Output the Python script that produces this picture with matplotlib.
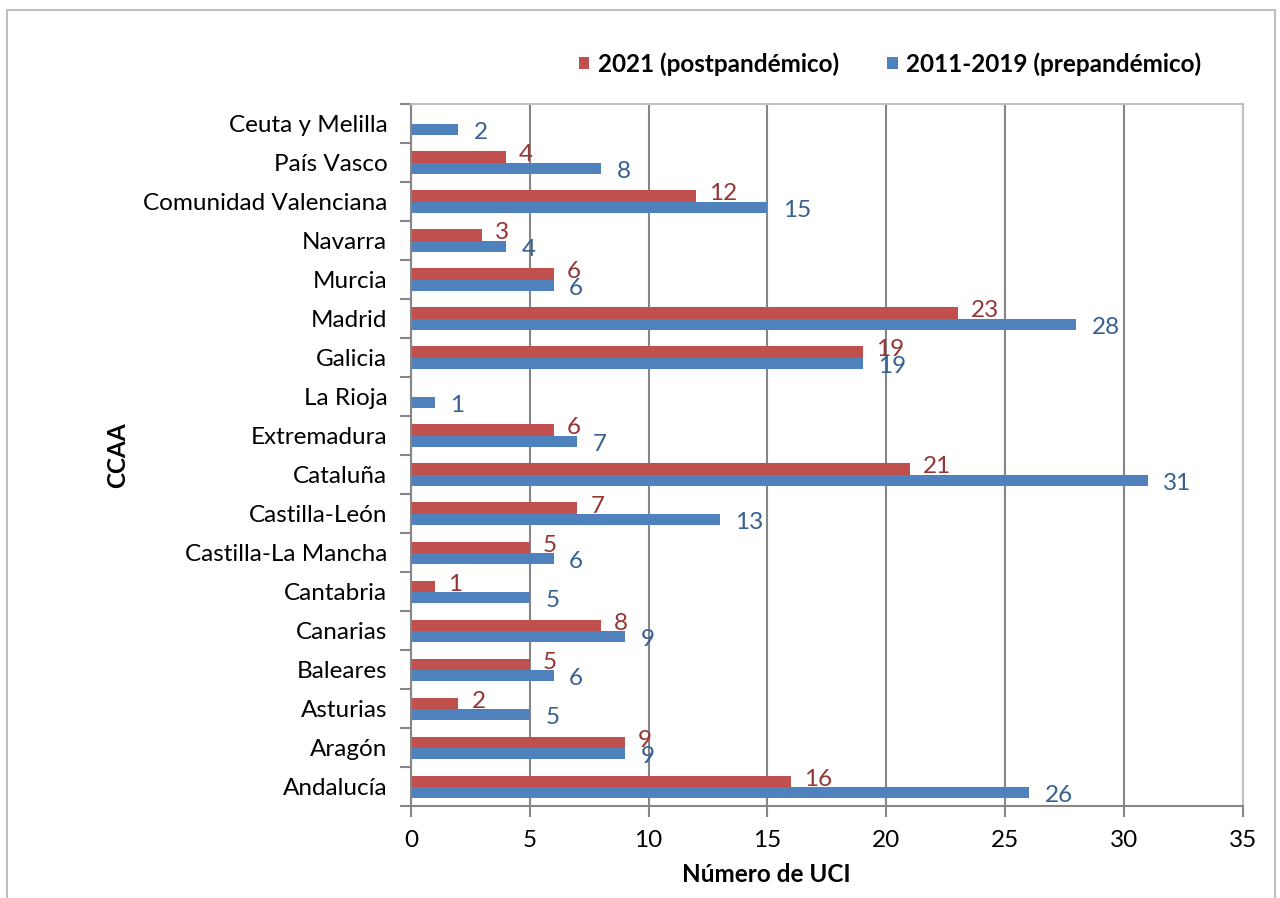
import matplotlib.pyplot as plt
import numpy as np
from matplotlib.patches import Rectangle

plt.rcParams['font.family'] = ['Lato', 'DejaVu Sans']

regiones = ['Andalucía', 'Aragón', 'Asturias', 'Baleares', 'Canarias', 'Cantabria',
            'Castilla-La Mancha', 'Castilla-León', 'Cataluña', 'Extremadura', 'La Rioja',
            'Galicia', 'Madrid', 'Murcia', 'Navarra', 'Comunidad Valenciana',
            'País Vasco', 'Ceuta y Melilla']
uci_2021 = [16, 9, 2, 5, 8, 1, 5, 7, 21, 6, 0, 19, 23, 6, 3, 12, 4, 0]
uci_2011_2019 = [26, 9, 5, 6, 9, 5, 6, 13, 31, 7, 1, 19, 28, 6, 4, 15, 8, 2]

rojo, azul = '#C0504D', '#4F81BD'
rojo_txt, azul_txt = '#963634', '#376092'
gris = '#868686'
fs = 17.5

fig = plt.figure(figsize=(12.8, 8.98), dpi=100)
ax = fig.add_axes([0.321, 0.102, 0.650, 0.782])

# chart area border
fig.patches.append(Rectangle((7 / 1280, -0.05), 1268 / 1280, 1 - 10 / 898 + 0.05,
                             transform=fig.transFigure, fill=False,
                             edgecolor='#BFBFBF', linewidth=1.5))

y = np.arange(len(regiones))
h = 0.29
b1 = ax.barh(y + h / 2, uci_2021, height=h, color=rojo, label='2021 (postpandémico)')
b2 = ax.barh(y - h / 2, uci_2011_2019, height=h, color=azul, label='2011-2019 (prepandémico)')

# value labels next to each bar end
for yi, v in zip(y, uci_2021):
    if v > 0:
        ax.text(v + 0.55, yi + 0.2, str(v), va='center', ha='left',
                fontsize=fs, color=rojo_txt)
for yi, v in zip(y, uci_2011_2019):
    ax.text(v + 0.65, yi - 0.22, str(v), va='center', ha='left',
            fontsize=fs, color=azul_txt)

ax.set_xlim(0, 35)
ax.set_ylim(-0.5, len(regiones) - 0.5)
ax.set_xticks(range(0, 36, 5))
ax.set_yticks(y)
ax.set_yticklabels(regiones)
ax.set_yticks(np.arange(-0.5, len(regiones), 1), minor=True)
ax.tick_params(axis='y', which='major', length=0, pad=17, labelsize=fs)
ax.tick_params(axis='y', which='minor', length=8, width=1.5, color=gris)
ax.tick_params(axis='x', length=8, width=1.5, color=gris, pad=9, labelsize=fs)

ax.xaxis.grid(True, color=gris, linewidth=1.5)
ax.set_axisbelow(True)
for s in ['left', 'bottom']:
    ax.spines[s].set_color(gris)
    ax.spines[s].set_linewidth(1.5)
for s in ['top', 'right']:
    ax.spines[s].set_color('#BFBFBF')
    ax.spines[s].set_linewidth(1.5)

fig.text(118 / 1280, 1 - 455 / 898, 'CCAA', rotation=90, fontsize=fs,
         fontweight='bold', ha='center', va='center')
fig.text(766 / 1280, 1 - 874 / 898, 'Número de UCI', fontsize=fs,
         fontweight='bold', ha='center', va='center')

leg = fig.legend(handles=[b1, b2], loc='center', bbox_to_anchor=(890 / 1280, 1 - 64 / 898),
                 ncol=2, frameon=False, fontsize=fs, handlelength=0.42, handleheight=0.42,
                 handletextpad=0.35, columnspacing=2.0)
for t in leg.get_texts():
    t.set_fontweight('bold')

fig.savefig('out.png', dpi=100)
